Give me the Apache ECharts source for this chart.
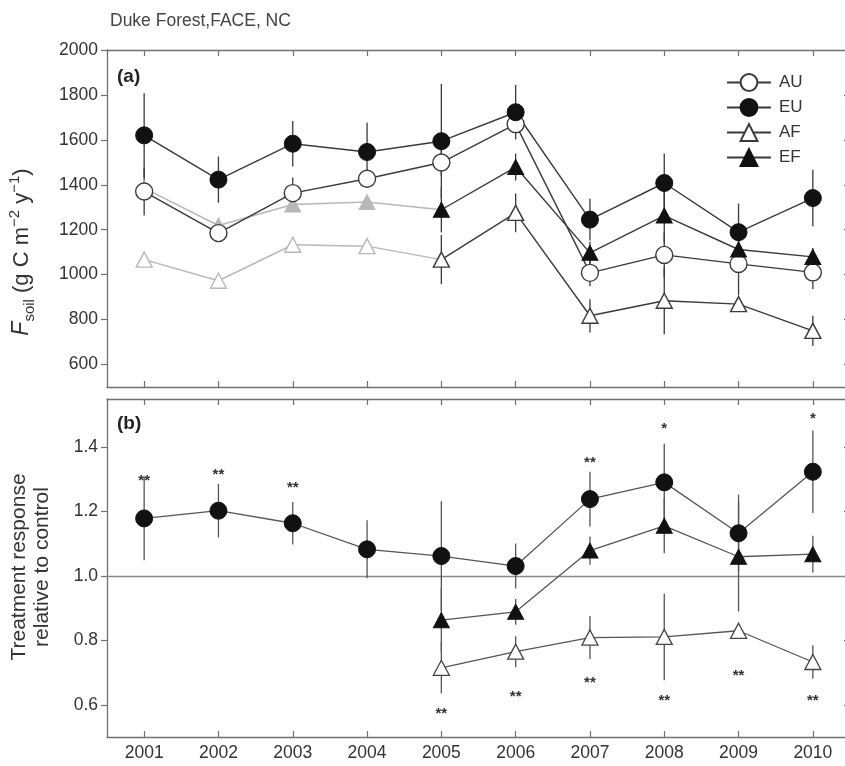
<!DOCTYPE html>
<html><head><meta charset="utf-8">
<script src="https://cdn.jsdelivr.net/npm/echarts@6/dist/echarts.min.js"></script>
<style>html,body{margin:0;padding:0;background:#fff;overflow:hidden}#c{width:852px;height:766px}</style>
</head><body><div id="c"></div>
<script>
// ---------- data ----------
const years = ['2001','2002','2003','2004','2005','2006','2007','2008','2009','2010'];
// panel (a): Fsoil (g C m-2 y-1)
const auVals = [1370,1185,1363,1427,1499,1670,1008,1088,1048,1010];
const euVals = [1620,1423,1583,1546,1594,1723,1245,1408,1189,1341];
const afVals = [1067,973,1133,1127,1067,1275,817,884,869,750];
const efVals = [1385,1219,1312,1323,1289,1479,1097,1263,1112,1079];
const auErr  = [107,25,70,40,60,40,60,100,140,74];
const euErr  = [187,103,101,130,255,121,93,131,127,126];
const afErr  = [null,null,null,null,110,86,74,149,20,67];
const efErr  = [null,null,null,null,100,60,50,120,90,40];
const aTicks = [600,800,1000,1200,1400,1600,1800,2000];
// panel (b): treatment response relative to control
const euRatio = [1.179,1.203,1.164,1.083,1.062,1.031,1.239,1.291,1.133,1.324];
const euRatioErr = [0.13,0.083,0.066,0.09,0.17,0.07,0.085,0.12,0.12,0.128];
const efRatio = [null,null,null,null,0.863,0.889,1.079,1.156,1.060,1.068];
const efRatioErr = [null,null,null,null,0.10,0.04,0.044,0.085,0.17,0.057];
const afRatio = [null,null,null,null,0.715,0.765,0.809,0.811,0.830,0.733];
const afRatioErr = [null,null,null,null,0.08,0.048,0.067,0.135,0.015,0.052];
const bTicks = [0.6,0.8,1.0,1.2,1.4];
const starsUp = ['**','**','**','','','','**','*','','*'];
const starsUpY = [1.297,1.314,1.273,null,null,null,1.352,1.456,null,1.488];
const starsLow = ['','','','','**','**','**','**','**','**'];
const starsLowY = [null,null,null,null,0.573,0.625,0.668,0.611,0.689,0.611];
const preYears = 5; // 2001-2005 pre-fertilization (grey)

// ---------- styles ----------
const FONT = '"Liberation Sans", Arial, Helvetica, sans-serif';
const AXC = '#707070';
const TXT = '#333';
const LINE = '#3a3a3a';
const GREY = '#b8b8b8';

function errSeries(vals, errs, xi, yi, color) {
  const data = [];
  vals.forEach((v, i) => { if (v != null && errs[i] != null) data.push([i, v - errs[i], v + errs[i]]); });
  return {
    type: 'custom', xAxisIndex: xi, yAxisIndex: yi, z: 1, silent: true, data,
    encode: { x: 0, y: [1, 2] },
    renderItem: (p, api) => {
      const a = api.coord([api.value(0), api.value(1)]);
      const b = api.coord([api.value(0), api.value(2)]);
      return { type: 'line', shape: { x1: a[0], y1: a[1], x2: b[0], y2: b[1] },
        style: { stroke: color, lineWidth: 1.3 } };
    }
  };
}
function starSeries(labels, ys, xi, yi) {
  const data = [];
  ys.forEach((v, i) => { if (v != null) data.push([i, v]); });
  return {
    type: 'custom', xAxisIndex: xi, yAxisIndex: yi, z: 5, silent: true, data,
    renderItem: (p, api) => {
      const i = api.value(0);
      const c = api.coord([i, api.value(1)]);
      return { type: 'text', x: c[0], y: c[1],
        style: { text: labels[i], fontSize: 15, fontWeight: 'bold', fontFamily: FONT, fill: '#333',
          align: 'center', verticalAlign: 'middle' } };
    }
  };
}
function pre(vals) { return vals.map((v, i) => i < preYears ? (i === preYears - 1 ? { value: v, symbol: 'none' } : v) : null); }
function post(vals) { return vals.map((v, i) => i >= preYears - 1 ? v : null); }

const circleSize = 17, triSize = [16, 15];

function xAx(gi, pos, labels) {
  return {
    type: 'category', gridIndex: gi, data: years, position: pos, boundaryGap: true,
    axisLine: { show: true, onZero: false, lineStyle: { color: AXC, width: 1.3 } },
    axisTick: { show: true, alignWithLabel: true, inside: true, length: 6, lineStyle: { color: AXC, width: 1.2 } },
    axisLabel: { show: labels, fontSize: 17.5, color: TXT, fontFamily: FONT, margin: 7 },
    splitLine: { show: false }
  };
}
function yAx(gi, pos, min, max, ticks, labels, fmt) {
  return {
    type: 'value', gridIndex: gi, position: pos, min, max,
    axisLine: { show: true, lineStyle: { color: AXC, width: 1.3 } },
    axisTick: { show: true, inside: pos === 'right', length: 6, customValues: ticks, lineStyle: { color: AXC, width: 1.2 } },
    axisLabel: { show: labels, customValues: ticks, fontSize: 17.5, color: TXT, fontFamily: FONT, margin: 9, formatter: fmt },
    splitLine: { show: false }
  };
}

const option = {
  animation: false,
  backgroundColor: '#fff',
  textStyle: { fontFamily: FONT },
  grid: [
    { left: 107, top: 50, width: 743, height: 337 },
    { left: 107, top: 399, width: 743, height: 338 }
  ],
  xAxis: [ xAx(0, 'bottom', false), xAx(0, 'top', false), xAx(1, 'bottom', true), xAx(1, 'top', false) ],
  yAxis: [
    yAx(0, 'left', 500, 2000, aTicks, true, v => String(v)),
    yAx(0, 'right', 500, 2000, aTicks, false),
    yAx(1, 'left', 0.5, 1.55, bTicks, true, v => v.toFixed(1)),
    yAx(1, 'right', 0.5, 1.55, bTicks, false)
  ],
  legend: {
    left: 721, top: 67, orient: 'vertical', itemWidth: 44, itemHeight: 21, itemGap: 4,
    data: ['AU', 'EU', 'AF', 'EF'],
    textStyle: { fontSize: 17, color: TXT, fontFamily: FONT, padding: [0, 0, 0, 3], lineHeight: 21 }
  },
  graphic: [
    { type: 'text', x: 110, y: 21, style: { text: 'Duke Forest,FACE, NC', fontSize: 17.5, fontFamily: FONT, fill: '#444', align: 'left', verticalAlign: 'middle' } },
    { type: 'text', x: 117, y: 77, style: { text: '(a)', fontSize: 19, fontWeight: 'bold', fontFamily: FONT, fill: '#222', align: 'left', verticalAlign: 'middle' } },
    { type: 'text', x: 117, y: 424, style: { text: '(b)', fontSize: 19, fontWeight: 'bold', fontFamily: FONT, fill: '#222', align: 'left', verticalAlign: 'middle' } },
    { type: 'text', x: 22, y: 252, rotation: Math.PI / 2,
      style: { text: '{i|F}{s|soil}{n| (g C m}{p|\u22122}{n| y}{p|\u22121}{n|)}', align: 'center', verticalAlign: 'middle', fill: TXT,
        rich: {
          i: { fontSize: 23, fontStyle: 'italic', fontFamily: FONT, fill: TXT, lineHeight: 30, verticalAlign: 'middle' },
          n: { fontSize: 22, fontFamily: FONT, fill: TXT, lineHeight: 30, verticalAlign: 'middle' },
          s: { fontSize: 15, fontFamily: FONT, fill: TXT, lineHeight: 30, verticalAlign: 'bottom' },
          p: { fontSize: 15, fontFamily: FONT, fill: TXT, lineHeight: 30, verticalAlign: 'top' }
        } } },
    { type: 'text', x: 31, y: 567, rotation: Math.PI / 2,
      style: { text: 'Treatment response\nrelative to control', fontSize: 21, lineHeight: 23, fontFamily: FONT, fill: TXT, align: 'center', verticalAlign: 'middle' } }
  ],
  series: [
    errSeries(auVals, auErr, 0, 0, LINE),
    errSeries(euVals, euErr, 0, 0, LINE),
    errSeries(afVals, afErr, 0, 0, LINE),
    errSeries(efVals, efErr, 0, 0, LINE),
    { name: 'AF pre', type: 'line', xAxisIndex: 0, yAxisIndex: 0, z: 2, data: pre(afVals), symbol: 'triangle', symbolSize: triSize,
      lineStyle: { color: GREY, width: 1.5 }, itemStyle: { color: '#fff', borderColor: GREY, borderWidth: 1.4 } },
    { name: 'EF pre', type: 'line', xAxisIndex: 0, yAxisIndex: 0, z: 2, data: pre(efVals), symbol: 'triangle', symbolSize: triSize,
      lineStyle: { color: GREY, width: 1.5 }, itemStyle: { color: GREY, borderColor: GREY, borderWidth: 1 } },
    { name: 'AU', type: 'line', xAxisIndex: 0, yAxisIndex: 0, z: 3, data: auVals, symbol: 'circle', symbolSize: circleSize,
      lineStyle: { color: LINE, width: 1.4 }, itemStyle: { color: '#fff', borderColor: LINE, borderWidth: 1.4 } },
    { name: 'EU', type: 'line', xAxisIndex: 0, yAxisIndex: 0, z: 3, data: euVals, symbol: 'circle', symbolSize: circleSize,
      lineStyle: { color: LINE, width: 1.4 }, itemStyle: { color: '#111', borderColor: '#111', borderWidth: 1 } },
    { name: 'AF', type: 'line', xAxisIndex: 0, yAxisIndex: 0, z: 3, data: post(afVals), symbol: 'triangle', symbolSize: triSize,
      lineStyle: { color: LINE, width: 1.4 }, itemStyle: { color: '#fff', borderColor: LINE, borderWidth: 1.4 } },
    { name: 'EF', type: 'line', xAxisIndex: 0, yAxisIndex: 0, z: 3, data: post(efVals), symbol: 'triangle', symbolSize: triSize,
      lineStyle: { color: LINE, width: 1.4 }, itemStyle: { color: '#111', borderColor: '#111', borderWidth: 1 } },
    errSeries(euRatio, euRatioErr, 2, 2, '#555'),
    errSeries(efRatio, efRatioErr, 2, 2, '#555'),
    errSeries(afRatio, afRatioErr, 2, 2, '#555'),
    { name: 'EU/AU', type: 'line', xAxisIndex: 2, yAxisIndex: 2, z: 3, data: euRatio, symbol: 'circle', symbolSize: circleSize,
      lineStyle: { color: '#555', width: 1.3 }, itemStyle: { color: '#111', borderColor: '#111', borderWidth: 1 },
      markLine: { silent: true, symbol: 'none', label: { show: false }, lineStyle: { color: '#8a8a8a', width: 1.3, type: 'solid' },
        data: [{ yAxis: 1.0 }], z: 1 } },
    { name: 'EF/AF', type: 'line', xAxisIndex: 2, yAxisIndex: 2, z: 3, data: efRatio, symbol: 'triangle', symbolSize: triSize,
      lineStyle: { color: '#555', width: 1.3 }, itemStyle: { color: '#111', borderColor: '#111', borderWidth: 1 } },
    { name: 'AF/AU', type: 'line', xAxisIndex: 2, yAxisIndex: 2, z: 3, data: afRatio, symbol: 'triangle', symbolSize: triSize,
      lineStyle: { color: '#555', width: 1.3 }, itemStyle: { color: '#fff', borderColor: '#444', borderWidth: 1.3 } },
    starSeries(starsUp, starsUpY, 2, 2),
    starSeries(starsLow, starsLowY, 2, 2)
  ]
};
const chart = echarts.init(document.getElementById('c'), null, { renderer: 'canvas' });
chart.setOption(option);
</script></body></html>
